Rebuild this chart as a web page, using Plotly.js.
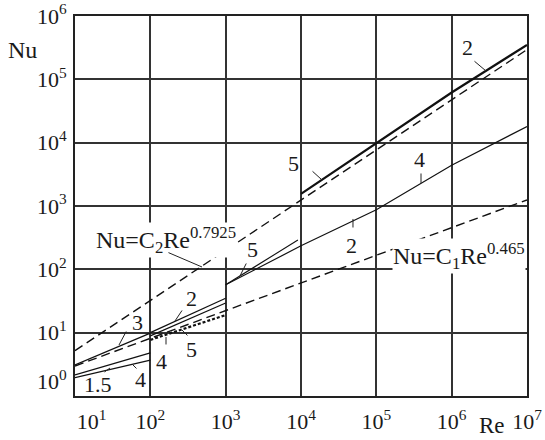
<!DOCTYPE html>
<html>
<head>
<meta charset="utf-8">
<script src="https://cdn.plot.ly/plotly-3.0.1.min.js"></script>
<style>html,body{margin:0;padding:0;background:#fff;}#chart{width:545px;height:440px;}</style>
</head>
<body>
<div id="chart"></div>
<script>
// ---- data (Re, Nu) ----
const reTicks = [1e1, 1e2, 1e3, 1e4, 1e5, 1e6, 1e7];
const reTickText = ['\u00a0\u00a0\u00a0\u00a0\u00a0\u00a010<sup>1</sup>', '10<sup>2</sup>', '10<sup>3</sup>', '10<sup>4</sup>', '10<sup>5</sup>', '10<sup>6</sup>', '10<sup>7</sup>'];
const nuTicks = [1e0, 1e1, 1e2, 1e3, 1e4, 1e5, 1e6];
const nuTickText = ['10<sup>0</sup><br>\u00a0', '10<sup>1</sup>', '10<sup>2</sup>', '10<sup>3</sup>', '10<sup>4</sup>', '10<sup>5</sup>', '10<sup>6</sup>'];

// correlation Nu = C2 Re^0.7925 (dashed)
const reC2 = [10, 1e7];
const nuC2 = [5.2, 2.95e5];
// correlation Nu = C1 Re^0.465 (dashed)
const reC1 = [10, 1e7];
const nuC1 = [2.98, 1245];
// curves 2 & 5, upper branch (thick solid)
const reUpper = [1e4, 1e5, 1e6, 1e7];
const nuUpper = [1550, 9900, 62000, 350000];
// curves 2 & 4, middle branch
const reMid = [1e3, 1e4, 1e5, 1e6, 1e7];
const nuMid = [57, 235, 870, 4400, 18000];
// curve 5, short segment 1e3..1e4
const reSeg5 = [1e3, 9100];
const nuSeg5 = [57, 290];
// Re 1e2..1e3 bundle
const reBand2 = [100, 1000];
const nu2b = [10, 35];
const nu4b = [8.9, 29.4];
const nu5b = [7.7, 19];
// Re 10..100 bundle
const reBand1 = [10, 100];
const nu3a = [3.1, 9.8];
const nu4a = [2.15, 4.8];
const nu15a = [1.95, 3.7];

const K = '#111';
function tr(x, y, w, dash) {
  return {x: x, y: y, type: 'scatter', mode: 'lines', hoverinfo: 'skip',
          line: {color: K, width: w, dash: dash || 'solid'}};
}
const data = [
  tr(reC2, nuC2, 1.4, '9px,5px'),
  tr(reC1, nuC1, 1.4, '9px,5px'),
  tr(reUpper, nuUpper, 2.2),
  tr(reMid, nuMid, 1.2),
  tr(reSeg5, nuSeg5, 1.1),
  tr(reBand2, nu2b, 1.2),
  tr(reBand2, nu4b, 1.2),
  tr(reBand2, nu5b, 2.2, '3px,2px'),
  tr(reBand1, nu3a, 1.3),
  tr(reBand1, nu4a, 1.3),
  tr(reBand1, nu15a, 1.3)
];

const FF = 'Liberation Serif, Times New Roman, serif';
function lab(text, x, y, size, bg) {
  return {text: text, x: x, y: y, xref: 'x', yref: 'y', showarrow: false,
          font: {family: FF, size: size || 22, color: '#1a1a1a'},
          bgcolor: bg ? '#ffffff' : 'rgba(0,0,0,0)', borderpad: 0,
          xanchor: 'center', yanchor: 'middle'};
}
function lead(tx, ty, hx, hy) {
  return {text: '', x: hx, y: hy, ax: tx, ay: ty, xref: 'x', yref: 'y', axref: 'x', ayref: 'y',
          showarrow: true, arrowhead: 0, arrowwidth: 1, arrowcolor: '#222', standoff: 0, startstandoff: 0};
}

const annotations = [
  lab('2', 6.204, 5.495),
  lab('5', 3.894, 3.679),
  lab('4', 5.567, 3.727),
  lab('2', 4.664, 2.384),
  lab('5', 3.356, 2.321),
  lab('Nu=C<sub>2</sub>Re<sup>0.7925</sup>', 2.208, 2.463, 24, true),
  lab('Nu=C<sub>1</sub>Re<sup>0.465</sup>', 6.091, 2.211, 24, true),
  lab('3', 1.830, 1.161),
  lab('2', 2.540, 1.547),
  lab('5', 2.547, 0.742),
  lab('4', 2.151, 0.545),
  lab('4', 1.876, 0.268),
  lab('1.5', 1.305, 0.174),
  lead(6.283, 5.305, 6.456, 5.132),
  lead(4.133, 3.569, 4.279, 3.411),
  lead(5.593, 3.537, 5.593, 3.363),
  lead(4.690, 2.637, 4.690, 2.795),
  lead(3.283, 2.116, 3.190, 1.895),
  lead(2.221, 2.274, 2.686, 2.037),
  lead(1.690, 1.042, 1.584, 0.805),
  lead(2.434, 1.374, 2.327, 1.184),
  lead(2.513, 0.932, 2.420, 1.042),
  lead(2.208, 0.790, 2.208, 0.932),
  lead(1.836, 0.411, 1.757, 0.505),
  lead(1.372, 0.363, 1.465, 0.442),
  {text: 'Nu', xref: 'paper', yref: 'paper', x: -0.117, y: 0.91, showarrow: false,
   font: {family: FF, size: 24, color: '#1a1a1a'}, xanchor: 'center', yanchor: 'middle'},
  {text: 'Re', xref: 'paper', yref: 'paper', x: 0.922, y: -0.078, showarrow: false,
   font: {family: FF, size: 23, color: '#1a1a1a'}, xanchor: 'center', yanchor: 'middle'}
];

const axisBase = {
  type: 'log', showgrid: true, gridcolor: '#333333', gridwidth: 2,
  showline: true, mirror: true, linecolor: '#222', linewidth: 2,
  ticks: '', zeroline: false, automargin: false, tickmode: 'array',
  tickfont: {family: FF, size: 22, color: '#1a1a1a'}
};

const layout = {
  width: 545, height: 440,
  margin: {l: 75, r: 18, t: 16, b: 44, pad: 0},
  paper_bgcolor: '#ffffff', plot_bgcolor: '#ffffff',
  showlegend: false, hovermode: false,
  xaxis: Object.assign({}, axisBase, {range: [1, 7], tickvals: reTicks, ticktext: reTickText, ticklabelstandoff: 5}),
  yaxis: Object.assign({}, axisBase, {range: [0, 6], tickvals: nuTicks, ticktext: nuTickText, ticklabelstandoff: 2}),
  annotations: annotations
};

Plotly.newPlot('chart', data, layout, {staticPlot: true, displayModeBar: false});
</script>
</body>
</html>
